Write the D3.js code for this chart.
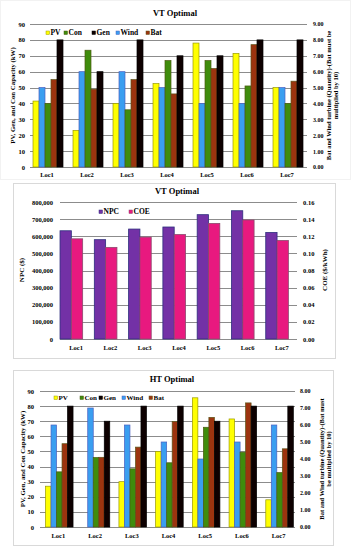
<!DOCTYPE html>
<html>
<head>
<meta charset="utf-8">
<script src="https://cdn.jsdelivr.net/npm/d3@7"></script>
<style>
  body { margin: 0; background: #fff; }
  svg text { font-family: "Liberation Serif", "Times New Roman", serif; font-weight: bold; fill: #000; }
</style>
</head>
<body>
<svg id="chart" width="351" height="550"></svg>
<script>
const locs = ["Loc1", "Loc2", "Loc3", "Loc4", "Loc5", "Loc6", "Loc7"];

// VT Optimal (kW on left axis; Wind and Bat quantity on right axis)
const vtPV   = [41.5, 23, 40, 52.5, 78, 71.5, 50];
const vtCon  = [40, 73.5, 36, 67, 67, 51, 40];
const vtGen  = [80, 60, 80, 70, 70, 80, 80];
const vtWind = [5.0, 6.0, 6.0, 5.0, 4.0, 4.0, 5.0];
const vtBat  = [5.5, 4.9, 5.5, 4.6, 6.2, 7.7, 5.4];

// VT Optimal costs
const npc = [632000, 580000, 642000, 654000, 726000, 749000, 622000];
const coe = [0.117, 0.107, 0.119, 0.122, 0.135, 0.139, 0.115];

// HT Optimal
const htPV   = [27, 0, 30, 50, 85.5, 71.5, 18];
const htCon  = [36.5, 46, 38.5, 42.5, 66, 49.5, 36];
const htGen  = [80, 70, 80, 80, 70, 80, 80];
const htWind = [6.0, 7.0, 6.0, 5.0, 4.0, 5.0, 6.0];
const htBat  = [4.9, 4.1, 4.7, 6.2, 6.45, 7.3, 4.6];

const leftTicks = d3.range(0, 91, 10);
const npcTicks = d3.range(0, 800001, 100000);
const coeTicks = d3.range(0, 0.161, 0.02);

const colors = {
  PV:   { fill: "#ffff00", stroke: "#9a9a00" },
  Con:  { fill: "#3f8c0c", stroke: "#4a5a10" },
  Gen:  { fill: "#0d0000", stroke: "#000" },
  Wind: { fill: "#3a9ef0", stroke: "#4b5fc0" },
  Bat:  { fill: "#9c340f", stroke: "#5c5418" },
  NPC:  { fill: "#7331a6", stroke: "#2e2e7e" },
  COE:  { fill: "#e8197f", stroke: "#8c4a6e" }
};

const svg = d3.select("#chart");

function frame(x, y, w, h, c) {
  svg.append("rect").attr("x", x + 0.5).attr("y", y + 0.5)
    .attr("width", w).attr("height", h)
    .attr("fill", "#fff").attr("stroke", c);
}

function grid(g, y, ticks, x0, x1) {
  g.selectAll(".grid").data(ticks).join("line")
    .attr("x1", x0).attr("x2", x1)
    .attr("y1", d => Math.round(y(d)) + 0.5).attr("y2", d => Math.round(y(d)) + 0.5)
    .attr("stroke", "#8c8c8c").attr("stroke-width", 1);
}

function styleAxis(a, size) {
  a.select(".domain").remove();
  a.selectAll(".tick line").remove();
  a.selectAll("text").attr("font-size", size)
    .style("font-family", "Liberation Serif, serif").style("font-weight", "bold");
}

function legend(g, items, x, y, gaps, size) {
  let cx = x;
  items.forEach((k, i) => {
    g.append("rect").attr("x", cx).attr("y", y - 4).attr("width", 3.5).attr("height", 3.5)
      .attr("fill", colors[k].fill).attr("stroke", colors[k].stroke).attr("stroke-width", 0.5);
    g.append("text").attr("x", cx + 4.5).attr("y", y).attr("font-size", size).text(k);
    cx += gaps[i];
  });
}

function rotText(x, y, lines, size, gap) {
  lines.forEach((t, i) => {
    svg.append("text")
      .attr("transform", `translate(${x + i * gap},${y}) rotate(-90)`)
      .attr("text-anchor", "middle").attr("font-size", size).text(t);
  });
}

function capacityPanel(o) {
  frame(o.frame[0], o.frame[1], o.frame[2], o.frame[3], o.frameColor);
  const g = svg.append("g");
  const y = d3.scaleLinear().domain([0, 90]).range([o.y0, o.y90]);
  const y2 = d3.scaleLinear().domain([0, o.rightMax]).range([o.y0, o.y90]);
  const x = d3.scaleBand().domain(locs).range(o.band);
  const sub = d3.scaleBand().domain(["PV", "Wind", "Con", "Bat", "Gen"])
    .range([x.bandwidth() * 0.15, x.bandwidth() * 0.9]);

  grid(g, y, leftTicks, o.gridX[0], o.gridX[1]);

  const series = [
    { key: "PV", vals: o.pv, scale: y },
    { key: "Wind", vals: o.wind, scale: y2 },
    { key: "Con", vals: o.con, scale: y },
    { key: "Bat", vals: o.bat, scale: y2 },
    { key: "Gen", vals: o.gen, scale: y }
  ];
  series.forEach(s => {
    g.append("g").selectAll("rect").data(s.vals).join("rect")
      .attr("x", (d, i) => x(locs[i]) + sub(s.key))
      .attr("width", sub.bandwidth())
      .attr("y", d => s.scale(d))
      .attr("height", d => o.y0 - s.scale(d))
      .attr("fill", colors[s.key].fill)
      .attr("stroke", colors[s.key].stroke).attr("stroke-width", 0.7);
  });

  const al = g.append("g").attr("transform", `translate(${o.leftLabX},0)`)
    .call(d3.axisLeft(y).tickValues(leftTicks).tickSize(0).tickPadding(0));
  styleAxis(al, 6.5);
  const ar = g.append("g").attr("transform", `translate(${o.rightLabX},0)`)
    .call(d3.axisRight(y2).tickValues(d3.range(0, o.rightMax + 0.01, 1)).tickFormat(d3.format(".2f")).tickSize(0).tickPadding(0));
  styleAxis(ar, 6);
  const ab = g.append("g").attr("transform", `translate(0,${o.locY})`)
    .call(d3.axisBottom(x).tickSize(0).tickPadding(0));
  styleAxis(ab, 6.5);

  svg.append("text").attr("x", o.titleX).attr("y", o.titleY).attr("text-anchor", "middle")
    .attr("font-size", 8.5).text(o.title);
  legend(g, ["PV", "Con", "Gen", "Wind", "Bat"], o.legX, o.legY, o.legGaps, o.legSize);
  rotText(o.leftTitleX, (o.y0 + o.y90) / 2, ["PV, Gen, and Con Capacity (kW)"], 6.8, 0);
  rotText(o.rightTitleX, (o.y0 + o.y90) / 2, o.rightTitle, 6.5, 7);
}

capacityPanel({
  title: "VT Optimal", frame: [0, 0, 350, 179], frameColor: "#f2f2f2", titleX: 175, titleY: 16,
  y0: 167, y90: 24, band: [27, 307], gridX: [30, 307],
  leftLabX: 25, rightLabX: 313, locY: 172, rightMax: 9,
  pv: vtPV, con: vtCon, gen: vtGen, wind: vtWind, bat: vtBat,
  legX: 46, legY: 35, legGaps: [18, 28, 24, 30], legSize: 7.5,
  leftTitleX: 15, rightTitleX: 331,
  rightTitle: ["Bat and Wind turbine (Quantity)-(Bat must be", "multiplied by 10)"]
});

// NPC / COE panel
(function () {
  frame(13, 183, 322, 175, "#d9d9d9");
  const g = svg.append("g");
  const y0 = 339, yTop = 202;
  const y = d3.scaleLinear().domain([0, 800000]).range([y0, yTop]);
  const y2 = d3.scaleLinear().domain([0, 0.16]).range([y0, yTop]);
  const x = d3.scaleBand().domain(locs).range([59, 299]);
  const bw = x.bandwidth();

  grid(g, y, npcTicks, 60, 297);

  g.append("g").selectAll("rect").data(npc).join("rect")
    .attr("x", (d, i) => x(locs[i]) + bw * 0.03).attr("width", bw * 0.33)
    .attr("y", d => y(d)).attr("height", d => y0 - y(d))
    .attr("fill", colors.NPC.fill).attr("stroke", colors.NPC.stroke).attr("stroke-width", 0.8);
  g.append("g").selectAll("rect").data(coe).join("rect")
    .attr("x", (d, i) => x(locs[i]) + bw * 0.36).attr("width", bw * 0.33)
    .attr("y", d => y2(d)).attr("height", d => y0 - y2(d))
    .attr("fill", colors.COE.fill).attr("stroke", colors.COE.stroke).attr("stroke-width", 0.8);

  const al = g.append("g").attr("transform", "translate(53,0)")
    .call(d3.axisLeft(y).tickValues(npcTicks).tickFormat(d3.format(",")).tickSize(0).tickPadding(0));
  styleAxis(al, 6.5);
  const ar = g.append("g").attr("transform", "translate(303,0)")
    .call(d3.axisRight(y2).tickValues(coeTicks).tickFormat(d3.format(".2f")).tickSize(0).tickPadding(0));
  styleAxis(ar, 6.5);
  const ab = g.append("g").attr("transform", "translate(0,345)")
    .call(d3.axisBottom(x).tickSize(0).tickPadding(0));
  styleAxis(ab, 6.5);

  svg.append("text").attr("x", 177).attr("y", 194).attr("text-anchor", "middle")
    .attr("font-size", 8.5).text("VT Optimal");
  legend(g, ["NPC", "COE"], 99, 214, [30], 7.5);
  rotText(24, 270, ["NPC ($)"], 7, 0);
  rotText(327, 270, ["COE ($/kWh)"], 7, 0);
})();

capacityPanel({
  title: "HT Optimal", frame: [13, 370, 320, 175], frameColor: "#d9d9d9", titleX: 172, titleY: 382,
  y0: 527, y90: 391, band: [40, 297], gridX: [40, 295],
  leftLabX: 34, rightLabX: 300, locY: 533, rightMax: 8,
  pv: htPV, con: htCon, gen: htGen, wind: htWind, bat: htBat,
  legX: 54, legY: 400, legGaps: [26, 19, 23, 27], legSize: 7,
  leftTitleX: 25, rightTitleX: 324,
  rightTitle: ["Bat and Wind turbine (Quantity)-(Bat must", "be multiplied by 10)"]
});
</script>
</body>
</html>
